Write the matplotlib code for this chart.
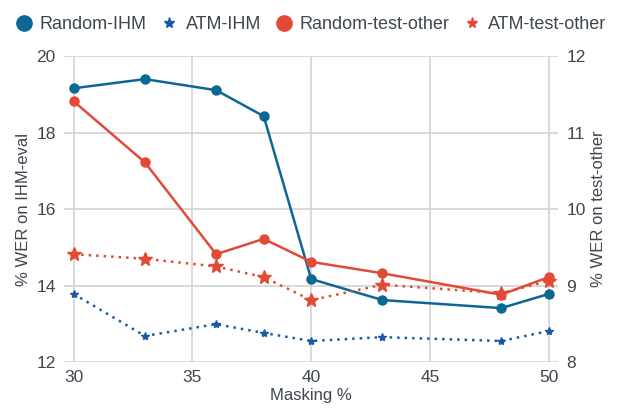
"""WER vs masking percentage for random and ATM masking."""
import matplotlib
matplotlib.use("Agg")
import matplotlib.pyplot as plt

masking = [30, 33, 36, 38, 40, 43, 48, 50]
random_ihm = [19.16, 19.40, 19.11, 18.43, 14.17, 13.62, 13.41, 13.78]
atm_ihm = [13.78, 12.68, 12.99, 12.76, 12.55, 12.65, 12.55, 12.81]
random_other = [11.41, 10.61, 9.41, 9.61, 9.31, 9.16, 8.88, 9.11]
atm_other = [9.41, 9.35, 9.25, 9.11, 8.81, 9.01, 8.90, 9.06]

plt.rcParams["font.family"] = ["Liberation Sans", "DejaVu Sans"]
text_color = "#3e4650"
blue = "#0b6895"
blue2 = "#1c5ba3"
red = "#e24a37"

fig = plt.figure(figsize=(6.23, 4.13), dpi=100)
ax = fig.add_axes([0.103, 0.1235, 0.793, 0.7405])
ax2 = ax.twinx()

l1, = ax.plot(masking, random_ihm, color=blue, lw=1.8, marker="o", ms=6.5,
              label="Random-IHM")
l2, = ax.plot(masking, atm_ihm, color=blue2, lw=1.8, ls=(0, (1, 2)),
              marker="*", ms=6, label="ATM-IHM")
l3, = ax2.plot(masking, random_other, color=red, lw=1.8, marker="o", ms=6.5,
               label="Random-test-other")
l4, = ax2.plot(masking, atm_other, color=red, lw=1.8, ls=(0, (1, 2)),
               marker="*", ms=10, label="ATM-test-other")

ax.set_xlim(29.6, 50.4)
ax.set_ylim(12, 20)
ax2.set_ylim(8, 12)
ax.set_xticks([30, 35, 40, 45, 50])
ax.set_yticks([12, 14, 16, 18, 20])
ax2.set_yticks([8, 9, 10, 11, 12])

ax.grid(True, color="#d3d3d3", lw=1.2)
ax.set_axisbelow(True)
for a in (ax, ax2):
    for s in a.spines.values():
        s.set_visible(False)
    a.tick_params(length=0, labelsize=12.5, colors=text_color, pad=6)

ax.set_xlabel("Masking %", fontsize=12, color=text_color, labelpad=2)
ax.set_ylabel("% WER on IHM-eval", fontsize=12, color=text_color)
ax2.set_ylabel("% WER on test-other", fontsize=12, color=text_color)

fig.legend(handles=[l1, l2, l3, l4], loc="upper center", ncol=4,
           bbox_to_anchor=(0.5, 1.0), frameon=False, fontsize=13,
           handlelength=0.8, columnspacing=0.85, handletextpad=0.5,
           labelcolor=text_color)
leg = fig.legends[0]
for h, size in zip(leg.legend_handles, [11, 8, 11, 8]):
    h.set_linestyle("none")
    h.set_markersize(size)

fig.savefig("out.png", dpi=100)
